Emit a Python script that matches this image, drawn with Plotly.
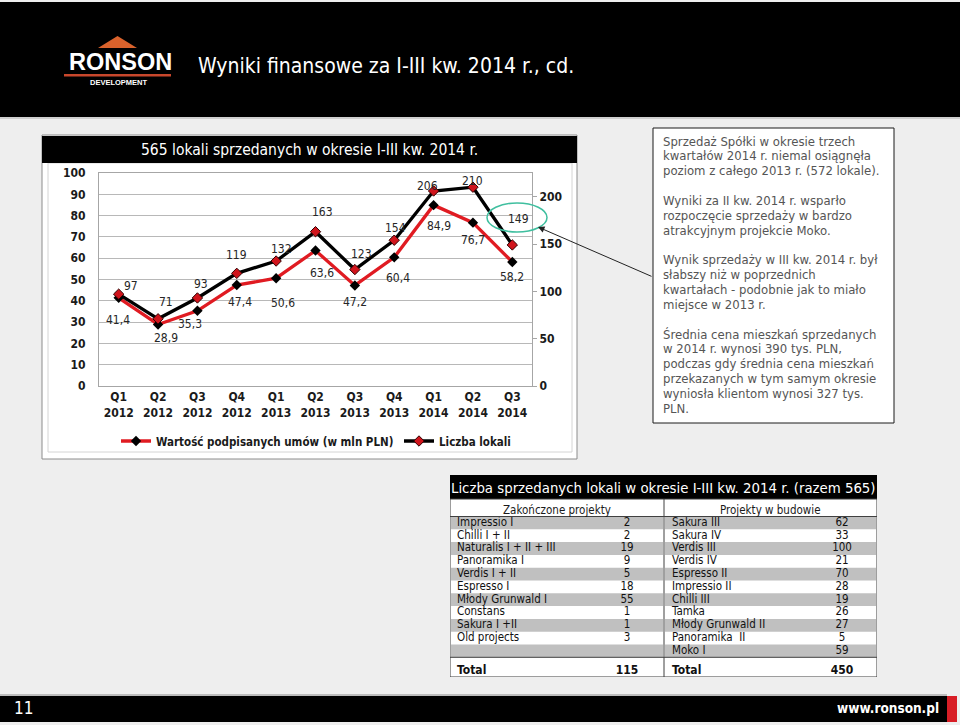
import plotly.graph_objects as go

# ---------------- data ----------------
quarters = ["Q1 2012", "Q2 2012", "Q3 2012", "Q4 2012", "Q1 2013", "Q2 2013",
            "Q3 2013", "Q4 2013", "Q1 2014", "Q2 2014", "Q3 2014"]
wartosc = [41.4, 28.9, 35.3, 47.4, 50.6, 63.6, 47.2, 60.4, 84.9, 76.7, 58.2]
liczba = [97, 71, 93, 119, 132, 163, 123, 154, 206, 210, 149]
left_ticks = [0, 10, 20, 30, 40, 50, 60, 70, 80, 90, 100]
right_ticks = [0, 50, 100, 150, 200]

left_names = ["Impressio I", "Chilli I + II", "Naturalis I + II + III", "Panoramika I",
              "Verdis I + II", "Espresso I", "Młody Grunwald I", "Constans",
              "Sakura I +II", "Old projects"]
left_vals = [2, 2, 19, 9, 5, 18, 55, 1, 1, 3]
right_names = ["Sakura III", "Sakura IV", "Verdis III", "Verdis IV", "Espresso II",
               "Impressio II", "Chilli III", "Tamka", "Młody Grunwald II",
               "Panoramika  II", "Moko I"]
right_vals = [62, 33, 100, 21, 70, 28, 19, 26, 27, 5, 59]

notes = ["Sprzedaż Spółki w okresie trzech", "kwartałów 2014 r. niemal osiągnęła",
         "poziom z całego 2013 r. (572 lokale).", "",
         "Wyniki za II kw. 2014 r. wsparło", "rozpoczęcie sprzedaży w bardzo",
         "atrakcyjnym projekcie Moko.", "",
         "Wynik sprzedaży w III kw. 2014 r. był", "słabszy niż w poprzednich",
         "kwartałach - podobnie jak to miało", "miejsce w 2013 r.", "",
         "Średnia cena mieszkań sprzedanych", "w 2014 r. wynosi 390 tys. PLN,",
         "podczas gdy średnia cena mieszkań", "przekazanych w tym samym okresie",
         "wyniosła klientom wynosi 327 tys.", "PLN."]

# label offsets (style, px)
w_dx = [-1, 8, -7, 3, 7, 6, 0, 4, 5, 0, 0]
w_dy = [22, 14, 13, 17, 25, 22, 17, 21, 21, 17, 15]
l_dx = [12, 8, 4, 0, 5, 7, 7, 1, -6, 0, 6]
l_dy = [8, 17, 14, 18, 12, 20, 16, 12, 5, 6, 26]

# ---------------- helpers ----------------
W, H = 960, 725
FONT = "DejaVu Sans Condensed, Liberation Sans, Arial, sans-serif"


def px(x):
    return x / W


def py(y):
    return 1 - y / H


shapes = []
annotations = []


def prect(x0, y0, x1, y1, fill=None, line=None, lw=1, layer="below"):
    shapes.append(dict(type="rect", xref="paper", yref="paper",
                       x0=px(x0), x1=px(x1), y0=py(y1), y1=py(y0),
                       fillcolor=fill if fill else "rgba(0,0,0,0)",
                       line=dict(color=line if line else "rgba(0,0,0,0)", width=lw if line else 0),
                       layer=layer))


def ptext(x, y, text, size, color, xanchor="center", weight="normal", family=FONT):
    annotations.append(dict(xref="paper", yref="paper", x=px(x), y=py(y), text=text,
                            showarrow=False, xanchor=xanchor, yanchor="middle",
                            font=dict(size=size, color=color, family=family, weight=weight)))


# ---------------- slide decoration ----------------
prect(0, 2, 960, 117, fill="#000000")
prect(0, 117, 960, 119, fill="#cfcfcf")
# logo
shapes.append(dict(type="path", xref="paper", yref="paper",
                   path=f"M{px(98)},{py(48)} L{px(117.5)},{py(36)} L{px(137)},{py(48)} Z",
                   fillcolor="#d9622c", line=dict(width=0), layer="above"))
prect(64, 74, 171, 76.5, fill="#c8472c", layer="above")
ptext(120, 62, "RONSON", 23.5, "#ffffff", weight="bold", family="Liberation Sans, Arial")
ptext(118.5, 82.5, "DEVELOPMENT", 7.5, "#ffffff", weight="bold", family="Liberation Sans, Arial")
ptext(196, 66, "Wyniki finansowe za I-III kw. 2014 r., cd.", 21, "#ffffff", xanchor="left")

# bottom bar
prect(0, 694, 947, 696, fill="#bdbdbd")
prect(0, 696, 947, 722, fill="#000000")
prect(947, 696, 957, 722, fill="#d81e26")
ptext(12, 708, "11", 17, "#ffffff", xanchor="left")
ptext(888, 708, "www.ronson.pl", 13.5, "#ffffff", weight="bold")

# chart panel
prect(42, 135, 577, 459, fill="#ffffff", line="#8c8c8c", lw=1)
prect(48, 163, 572, 452, line="#d4d4d4", lw=1)
prect(42, 136, 577, 163, fill="#000000")
ptext(309, 150, "565 lokali sprzedanych w okresie I-III kw. 2014 r.", 15.5, "#ffffff")

# text box
prect(653, 128, 894, 423, fill="#ffffff", line="#1a1a1a", lw=1)
for k, line in enumerate(notes):
    if line:
        ptext(661, 141 + 14.85 * k, line, 13, "#555555", xanchor="left")

# ellipse + arrow
shapes.append(dict(type="circle", xref="paper", yref="paper",
                   x0=px(487), x1=px(547), y0=py(232), y1=py(203),
                   line=dict(color="#3fbf9f", width=1.5), layer="above"))
annotations.append(dict(xref="paper", yref="paper", x=px(538), y=py(227), text="",
                        showarrow=True, ax=115, ay=50, arrowhead=2, arrowsize=1.3,
                        arrowwidth=1, arrowcolor="#222222"))

# ---------------- chart ----------------
fig = go.Figure()
fig.add_trace(go.Scatter(
    x=quarters, y=wartosc, name="Wartość podpisanych umów (w mln PLN)",
    mode="lines+markers", yaxis="y", xaxis="x",
    line=dict(color="#e01b22", width=3.3),
    marker=dict(symbol="diamond", size=8, color="#000000"),
    hoverinfo="skip"))
fig.add_trace(go.Scatter(
    x=quarters, y=liczba, name="Liczba lokali",
    mode="lines+markers", yaxis="y2", xaxis="x",
    line=dict(color="#000000", width=3.3),
    marker=dict(symbol="diamond", size=8, color="#d0141c", line=dict(color="#300000", width=1)),
    hoverinfo="skip"))

for i, q in enumerate(quarters):
    annotations.append(dict(x=q, y=wartosc[i], xref="x", yref="y",
                            text=f"{wartosc[i]:.1f}".replace(".", ","), showarrow=False,
                            xshift=w_dx[i], yshift=-w_dy[i],
                            font=dict(size=12, color="#262626", family=FONT)))
    annotations.append(dict(x=q, y=liczba[i], xref="x", yref="y2",
                            text=str(liczba[i]), showarrow=False,
                            xshift=l_dx[i], yshift=l_dy[i],
                            font=dict(size=12, color="#262626", family=FONT)))

# ---------------- table ----------------
TX0, TX1, TY0, TY1 = 450, 877, 475, 677
ROW0, ROWH = 41.5, 12.8
SPLIT = 214
TW = TX1 - TX0


def trect(x0, y0, x1, y1, fill=None, line=None, lw=1, layer="below"):
    shapes.append(dict(type="rect", xref="x3", yref="y3", x0=x0, x1=x1, y0=y0, y1=y1,
                       fillcolor=fill if fill else "rgba(0,0,0,0)",
                       line=dict(color=line if line else "rgba(0,0,0,0)", width=lw if line else 0),
                       layer=layer))


def tline(x0, y0, x1, y1, color="#404040", lw=1):
    shapes.append(dict(type="line", xref="x3", yref="y3", x0=x0, x1=x1, y0=y0, y1=y1,
                       line=dict(color=color, width=lw), layer="above"))


trect(0, 24, TW, 202, fill="#ffffff")
nrows = max(len(left_names), len(right_names))
for i in range(nrows):
    if i % 2 == 0:
        y0 = ROW0 + ROWH * i
        trect(1, y0, SPLIT - 1, y0 + ROWH, fill="#c0c0c0")
        trect(SPLIT + 1, y0, TW - 1, y0 + ROWH, fill="#c0c0c0")
trect(0, 0, TW, 24, fill="#000000")
trect(0, 24, TW, 202, line="#3a3a3a", lw=1, layer="above")
tline(SPLIT, 24, SPLIT, 202)
tline(0, ROW0, TW, ROW0)
tline(0, ROW0 + ROWH * nrows, TW, ROW0 + ROWH * nrows)

for txt, xx, yy, sz, col, wt in [
        ("Liczba sprzedanych lokali w okresie I-III kw. 2014 r. (razem 565)", TW / 2, 12.5, 14.8, "#ffffff", "normal"),
        ("Zakończone projekty", SPLIT / 2, 34.5, 11.5, "#1a1a1a", "normal"),
        ("Projekty w budowie", (SPLIT + TW) / 2, 34.5, 11.5, "#1a1a1a", "normal")]:
    annotations.append(dict(xref="x3", yref="y3", x=xx, y=yy, text=txt, showarrow=False,
                            font=dict(size=sz, color=col, family=FONT, weight=wt)))

ly = [ROW0 + ROWH * (i + 0.5) for i in range(len(left_names))]
ry = [ROW0 + ROWH * (i + 0.5) for i in range(len(right_names))]
tfont = dict(size=11.5, color="#111111", family=FONT)
fig.add_trace(go.Scatter(x=[7] * len(left_names), y=ly, text=left_names, mode="text",
                         textposition="middle right", textfont=tfont, xaxis="x3", yaxis="y3",
                         showlegend=False, hoverinfo="skip"))
fig.add_trace(go.Scatter(x=[177] * len(left_vals), y=ly, text=[str(v) for v in left_vals], mode="text",
                         textposition="middle center", textfont=tfont, xaxis="x3", yaxis="y3",
                         showlegend=False, hoverinfo="skip"))
fig.add_trace(go.Scatter(x=[222] * len(right_names), y=ry, text=right_names, mode="text",
                         textposition="middle right", textfont=tfont, xaxis="x3", yaxis="y3",
                         showlegend=False, hoverinfo="skip"))
fig.add_trace(go.Scatter(x=[392] * len(right_vals), y=ry, text=[str(v) for v in right_vals], mode="text",
                         textposition="middle center", textfont=tfont, xaxis="x3", yaxis="y3",
                         showlegend=False, hoverinfo="skip"))
bfont = dict(size=12, color="#111111", family=FONT, weight="bold")
fig.add_trace(go.Scatter(x=[7, 222], y=[196, 196], text=["Total", "Total"], mode="text",
                         textposition="middle right", textfont=bfont, xaxis="x3", yaxis="y3",
                         showlegend=False, hoverinfo="skip"))
fig.add_trace(go.Scatter(x=[177, 392], y=[196, 196], text=[str(sum(left_vals)), str(sum(right_vals))],
                         mode="text", textposition="middle center", textfont=bfont,
                         xaxis="x3", yaxis="y3", showlegend=False, hoverinfo="skip"))

# ---------------- layout ----------------
tickfont = dict(size=12, color="#1a1a1a", family=FONT, weight="bold")
fig.update_layout(
    width=W, height=H, margin=dict(l=0, r=0, t=0, b=0),
    paper_bgcolor="#eeeeee", plot_bgcolor="rgba(0,0,0,0)",
    showlegend=True,
    legend=dict(orientation="h", x=px(116), xanchor="left", y=py(441), yanchor="middle",
                bgcolor="rgba(0,0,0,0)", font=dict(size=11.5, color="#1a1a1a", family=FONT, weight="bold"),
                itemwidth=30, entrywidth=238, tracegroupgap=0),
    xaxis=dict(domain=[px(99), px(532)], type="category", categoryarray=quarters,
               range=[-0.5, len(quarters) - 0.5],
               tickvals=quarters, ticktext=[q.replace(" ", "<br>") for q in quarters],
               showline=True, linecolor="#a6a6a6", linewidth=1, mirror=True,
               showgrid=False, ticks="", tickfont=tickfont, anchor="y", fixedrange=True,
               automargin=False),
    yaxis=dict(domain=[py(386), py(173)], range=[0, 100], tickvals=left_ticks,
               showgrid=True, gridcolor="#b8b8b8", gridwidth=1, zeroline=False,
               showline=True, linecolor="#a6a6a6", mirror=True, ticks="",
               tickfont=tickfont, ticklabelstandoff=10, anchor="x", fixedrange=True,
               automargin=False),
    yaxis2=dict(overlaying="y", side="right", range=[0, 225], tickvals=right_ticks,
                showgrid=False, zeroline=False, showline=False, ticks="outside",
                ticklen=4, tickcolor="#a6a6a6", tickfont=tickfont, anchor="x",
                fixedrange=True, automargin=False),
    xaxis3=dict(domain=[px(TX0), px(TX1)], range=[0, TW], visible=False, anchor="y3",
                fixedrange=True, automargin=False),
    yaxis3=dict(domain=[py(TY1), py(TY0)], range=[TY1 - TY0, 0], visible=False, anchor="x3",
                fixedrange=True, automargin=False),
    shapes=shapes, annotations=annotations,
)

fig.write_html("out.html", config={"displayModeBar": False},
               post_script="document.body.style.margin='0';")
